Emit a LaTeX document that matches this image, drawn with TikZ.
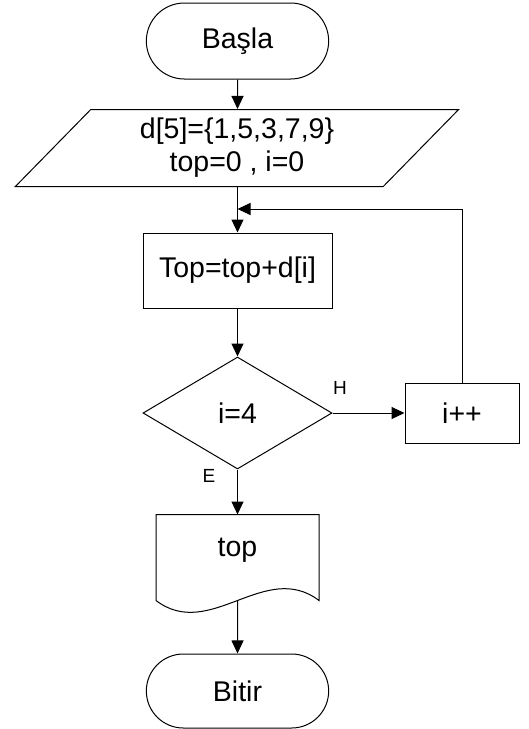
\documentclass[tikz,border=0pt]{standalone}
\usepackage{fontspec}
\setmainfont{Liberation Sans}
\usetikzlibrary{shapes.geometric,shapes.misc,arrows.meta}

\begin{document}
\begin{tikzpicture}[x=1pt,y=-1pt,line width=1pt,
        every node/.style={font=\fontsize{28.5}{33}\selectfont},
        terminal/.style={draw,rounded rectangle,minimum width=189pt,minimum height=76pt},
        io/.style={draw,trapezium,trapezium left angle=52,trapezium right angle=128,
            trapezium stretches=true,minimum width=444pt,minimum height=77pt,align=center},
        process/.style={draw,rectangle,minimum width=189pt,minimum height=75pt},
        decision/.style={draw,diamond,aspect=1.7,inner sep=0pt,minimum width=189pt,minimum height=112pt},
        doc/.style={minimum width=162pt,minimum height=70pt},
        lbl/.style={font=\fontsize{19}{22}\selectfont},
        flow/.style={-{Triangle[length=13pt,width=12pt]}}]
        \useasboundingbox (0,0) rectangle (529,729);

        \node[terminal] (start) at (237.5,41) {Başla};
        \node[io] (init) at (237,148) {d[5]=\{1,5,3,7,9\}\\top=0 , i=0};
        \node[process] (sum) at (237.5,270.5) {Top=top+d[i]};
        \node[decision] (check) at (237.5,413) {i=4};
        \node[process,minimum width=114pt,minimum height=60pt] (inc) at (462,413) {i++};
        \node[doc] (out) at (237.5,550) {top};
        \node[terminal,minimum height=74pt] (stop) at (237.5,691) {Bitir};
        \node[lbl] (no) at (340,388) {H};
        \node[lbl] (yes) at (209,476) {E};
        \coordinate (turn) at (462,209);
        \coordinate (join) at (237.5,209);

        % document shape with wavy bottom
        \draw (out.north west) -- (out.north east) -- ([yshift=-15pt]out.south east)
            .. controls +(-54,-41) and +(54,41) .. ([yshift=-15pt]out.south west) -- cycle;

        \draw[flow] (start) -- (start |- init.north);
        \draw[flow] (start |- init.south) -- (sum);
        \draw[flow] (sum) -- (check);
        \draw[flow] (check) -- (inc);
        \draw[flow] (check) -- (out);
        \draw[flow] ([yshift=-15pt]out.south) -- (stop);
        \draw[flow] (inc) -- (turn) -- (join);
    \end{tikzpicture}
\end{document}
